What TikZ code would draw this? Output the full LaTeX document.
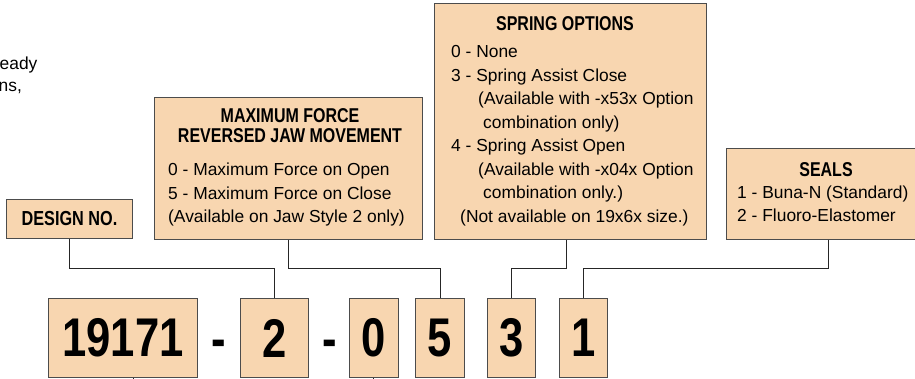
\documentclass[tikz,border=0pt]{standalone}
\usepackage{fontspec}
\setmainfont{Liberation Sans}
\newfontfamily\condfont{Liberation Sans}[FakeStretch=0.8]
\definecolor{peach}{RGB}{248,214,176}
\begin{document}
\begin{tikzpicture}[x=1pt,y=-1pt,
  box/.style={draw=black!70, line width=1pt, fill=peach, inner sep=0pt},
  conn/.style={draw=black!85, line width=1pt},
  body/.style={anchor=base west, inner sep=0pt, font=\fontsize{17.4}{20}\selectfont},
  ttl/.style={anchor=base, inner sep=0pt, font=\condfont\bfseries\fontsize{20}{22}\selectfont},
  digit/.style={box, anchor=north west, minimum height=79pt, font=\condfont\bfseries\fontsize{54.5}{60}\selectfont},
  dashmark/.style={anchor=base, inner sep=0pt, font=\condfont\bfseries\fontsize{54.5}{60}\selectfont}]
\useasboundingbox (0,0) rectangle (915,379);

% cut-off text fragments at the left edge
\node[body] (frag1) at (-0.5,69.5) {eady};
\node[body] (frag2) at (-1.5,91.5) {ns,};

% DESIGN NO.
\node[box, anchor=north west, minimum width=126pt, minimum height=39pt,
      font=\condfont\bfseries\fontsize{20.3}{22}\selectfont] (dn) at (6,199) {DESIGN NO.};

% Maximum force box
\node[box, anchor=north west, minimum width=268pt, minimum height=142pt] (mf) at (154,97) {};
\node[ttl] (mft1) at (290,122.7) {MAXIMUM FORCE};
\node[ttl] (mft2) at (290,142.7) {REVERSED JAW MOVEMENT};
\node[body] (mf1) at (168,176) {0 - Maximum Force on Open};
\node[body] (mf2) at (168,199.5) {5 - Maximum Force on Close};
\node[body] (mf3) at (168,223) {(Available on Jaw Style 2 only)};

% Spring options box
\node[box, anchor=north west, minimum width=272pt, minimum height=236pt] (sp) at (434,3) {};
\node[ttl] (spt) at (565,31) {SPRING OPTIONS};
\node[body] (sp1) at (451,57.8) {0 - None};
\node[body] (sp2) at (451,81.3) {3 - Spring Assist Close};
\node[body] (sp3) at (478,104.8) {(Available with -x53x Option};
\node[body] (sp4) at (483,128.3) {combination only)};
\node[body] (sp5) at (451,151.8) {4 - Spring Assist Open};
\node[body] (sp6) at (478,175.3) {(Available with -x04x Option};
\node[body] (sp7) at (483,198.8) {combination only.)};
\node[body] (sp8) at (460,222.3) {(Not available on 19x6x size.)};

% Seals box
\node[box, anchor=north west, minimum width=204pt, minimum height=91pt] (se) at (726,148) {};
\node[ttl] (set) at (826,177) {SEALS};
\node[body] (se1) at (737,198.5) {1 - Buna-N (Standard)};
\node[body] (se2) at (737,221.5) {2 - Fluoro-Elastomer};

% Digit boxes
\node[digit, minimum width=149pt] (d19171) at (48,298) {19171};
\node[digit, minimum width=68pt] (d2) at (240,298) {2};
\node[digit, minimum width=49pt] (d0) at (349,298) {0};
\node[digit, minimum width=49pt] (d5) at (415,298) {5};
\node[digit, minimum width=48pt] (d3) at (487,298) {3};
\node[digit, minimum width=48pt] (d1) at (559,298) {1};
\node[dashmark] (m1) at (219,357) {-};
\node[dashmark] (m2) at (330,357) {-};

% Connectors
\coordinate (hy) at (0,269);
\coordinate (spc) at ([xshift=-4pt]sp.south);
\draw[conn] (dn.south) -- (dn.south |- hy) -| (d2.north);
\draw[conn] (mf.south) -- (mf.south |- hy) -| (d5.north);
\draw[conn] (spc) -- (spc |- hy) -| (d3.north);
\draw[conn] (se.south) -- (se.south |- hy) -| (d1.north);
\coordinate (t1) at (133,381);
\coordinate (t2) at (373,381);
\draw[conn] (d19171.south -| t1) -- (t1);
\draw[conn] (d0.south -| t2) -- (t2);
\end{tikzpicture}
\end{document}
